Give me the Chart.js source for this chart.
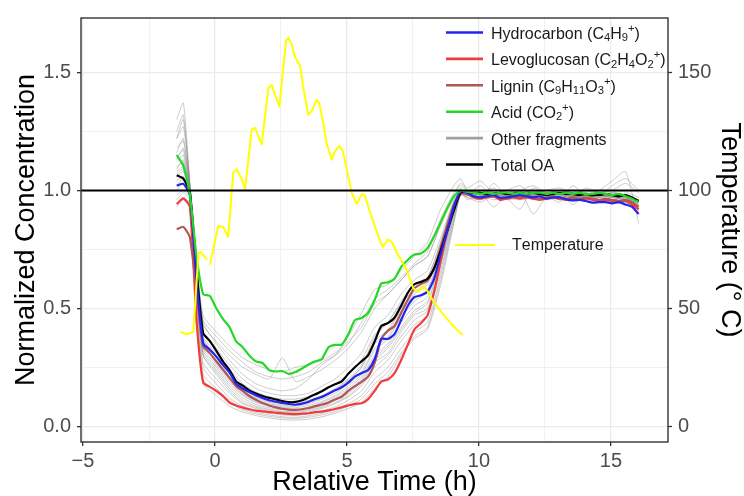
<!DOCTYPE html>
<html><head><meta charset="utf-8">
<script src="https://cdn.jsdelivr.net/npm/chart.js@4"></script>
<style>html,body{margin:0;padding:0;background:#fff}#wrap{width:744px;height:496px}</style>
</head><body><div id="wrap"><canvas id="c" width="744" height="496"></canvas></div>
<script>
// ---------- DATA ----------
const timeMain = [-1.45,-1.2,-0.95,-0.7,-0.45,-0.2,0.05,0.3,0.55,0.8,1.05,1.3,1.55,1.8,2.05,2.3,2.55,2.8,3.05,3.3,3.55,3.8,4.05,4.3,4.55,4.8,5.05,5.3,5.55,5.8,6.05,6.3,6.55,6.8,7.05,7.3,7.55,7.8,8.05,8.3,8.55,8.8,9.05,9.3,9.55,9.8,10.05,10.3,10.55,10.8,11.05,11.3,11.55,11.8,12.05,12.3,12.55,12.8,13.05,13.3,13.55,13.8,14.05,14.3,14.55,14.8,15.05,15.3,15.55,15.8,16.05];

const hydrocarbon = [1.02,1.028,0.98,0.62,0.352,0.325,0.295,0.26,0.228,0.18,0.16,0.145,0.131,0.12,0.11,0.104,0.099,0.094,0.091,0.096,0.104,0.115,0.125,0.138,0.152,0.165,0.185,0.21,0.225,0.238,0.285,0.37,0.37,0.39,0.45,0.51,0.547,0.555,0.57,0.625,0.73,0.83,0.93,0.995,
  0.99,0.975,0.97,0.975,0.98,0.968,0.97,0.975,0.98,0.975,0.97,0.975,0.965,0.97,0.97,0.962,0.958,0.96,0.955,0.948,0.95,0.95,0.945,0.95,0.94,0.93,0.9];
const levoglucosan = [0.942,0.966,0.93,0.45,0.185,0.167,0.15,0.128,0.1,0.088,0.079,0.072,0.066,0.063,0.06,0.057,0.054,0.052,0.051,0.053,0.055,0.06,0.062,0.067,0.073,0.08,0.088,0.095,0.097,0.115,0.15,0.19,0.198,0.225,0.28,0.345,0.41,0.437,0.47,0.57,0.7,0.83,0.93,0.985,
  0.985,0.97,0.965,0.97,0.975,0.96,0.965,0.97,0.965,0.97,0.965,0.96,0.965,0.97,0.965,0.96,0.965,0.96,0.965,0.96,0.955,0.96,0.955,0.95,0.955,0.94,0.92];
const lignin = [0.835,0.845,0.8,0.57,0.34,0.31,0.275,0.24,0.205,0.17,0.15,0.128,0.112,0.098,0.088,0.08,0.074,0.07,0.069,0.072,0.077,0.085,0.092,0.1,0.113,0.125,0.15,0.17,0.188,0.21,0.27,0.37,0.405,0.425,0.48,0.535,0.585,0.603,0.618,0.67,0.76,0.855,0.94,0.99,
  0.985,0.975,0.97,0.975,0.98,0.965,0.97,0.975,0.97,0.975,0.97,0.965,0.97,0.975,0.97,0.965,0.97,0.965,0.97,0.965,0.96,0.965,0.96,0.955,0.96,0.95,0.93];
const acid = [1.15,1.105,0.98,0.72,0.56,0.553,0.5,0.455,0.42,0.36,0.335,0.3,0.275,0.268,0.238,0.232,0.234,0.222,0.23,0.245,0.262,0.275,0.285,0.335,0.345,0.346,0.39,0.45,0.459,0.48,0.535,0.605,0.61,0.625,0.675,0.705,0.728,0.732,0.755,0.805,0.865,0.925,0.975,0.998,
  0.995,0.99,0.985,0.99,0.985,0.99,0.99,0.985,0.99,0.985,0.99,0.99,0.985,0.99,0.985,0.99,0.985,0.99,0.985,0.985,0.99,0.985,0.98,0.985,0.975,0.965,0.95];
const totalOA = [1.064,1.05,0.99,0.66,0.395,0.362,0.32,0.275,0.238,0.19,0.172,0.152,0.139,0.128,0.12,0.114,0.107,0.102,0.103,0.11,0.122,0.135,0.148,0.165,0.178,0.19,0.222,0.25,0.275,0.3,0.36,0.425,0.437,0.46,0.51,0.565,0.602,0.612,0.625,0.67,0.745,0.83,0.915,0.99,
  0.995,0.99,0.99,0.985,0.985,0.99,0.985,0.985,0.99,0.985,0.99,0.985,0.98,0.985,0.99,0.985,0.985,0.98,0.985,0.98,0.98,0.985,0.98,0.975,0.98,0.97,0.955];

const timeGray = [-1.45,-1.2,-0.95,-0.7,-0.45,0.05,0.55,1.05,1.55,2.05,2.55,3.05,3.55,4.05,4.55,5.05,5.55,6.05,6.55,7.05,7.55,8.05,8.55,9.05,9.3,9.55,10.05,10.55,11.05,11.55,12.05,12.55,13.05,13.55,14.05,14.55,15.05,15.55,16.05];
const gray01 = [1.30,1.37,1.03,0.72,0.47,0.40,0.34,0.29,0.26,0.24,0.23,0.25,0.26,0.28,0.31,0.36,0.42,0.52,0.56,0.62,0.68,0.72,0.86,0.98,1.03,1.01,1.04,0.99,1.0,1.02,0.98,1.0,1.01,0.99,1.0,0.98,1.02,1.05,1.0];
const gray02 = [1.22,1.27,1.02,0.68,0.43,0.36,0.30,0.25,0.22,0.20,0.29,0.19,0.21,0.24,0.28,0.33,0.40,0.50,0.56,0.62,0.68,0.72,0.85,0.97,1.01,0.98,1.02,0.97,0.99,1.0,0.96,0.98,0.99,1.0,0.97,0.99,1.0,0.96,0.95];
const gray03 = [1.18,1.21,1.01,0.66,0.40,0.33,0.26,0.20,0.16,0.14,0.13,0.13,0.14,0.17,0.20,0.25,0.31,0.42,0.47,0.56,0.62,0.66,0.80,0.96,1.0,0.99,0.98,1.0,0.97,0.98,1.0,0.99,0.98,0.99,0.98,0.97,0.99,0.98,0.94];
const gray04 = [1.14,1.17,1.0,0.64,0.37,0.30,0.22,0.16,0.13,0.11,0.10,0.10,0.11,0.13,0.16,0.20,0.26,0.36,0.41,0.50,0.57,0.61,0.76,0.94,0.99,0.98,0.99,0.97,0.98,0.99,0.98,0.97,0.99,0.98,0.97,0.98,0.97,0.96,0.93];
const gray05 = [1.10,1.12,0.99,0.62,0.35,0.28,0.20,0.14,0.11,0.095,0.085,0.085,0.095,0.115,0.14,0.18,0.23,0.33,0.38,0.47,0.54,0.58,0.74,0.93,0.99,1.0,0.98,0.99,0.97,1.0,0.99,0.98,1.0,0.99,0.98,0.99,0.98,0.97,0.95];
const gray06 = [1.08,1.10,0.99,0.60,0.32,0.25,0.18,0.13,0.10,0.085,0.075,0.072,0.08,0.10,0.125,0.16,0.21,0.30,0.35,0.44,0.51,0.55,0.72,0.92,0.995,0.99,0.97,0.98,0.96,0.97,0.98,0.96,0.97,0.98,0.96,0.97,0.96,0.95,0.92];
const gray07 = [1.06,1.08,0.98,0.58,0.30,0.23,0.16,0.11,0.085,0.072,0.064,0.062,0.07,0.085,0.11,0.14,0.19,0.28,0.33,0.41,0.48,0.52,0.70,0.91,0.99,0.97,0.95,0.98,0.99,0.97,0.98,0.99,0.97,0.98,0.97,0.98,0.99,0.98,0.96];
const gray08 = [1.02,1.05,0.98,0.56,0.27,0.20,0.14,0.095,0.075,0.062,0.055,0.053,0.06,0.075,0.095,0.125,0.17,0.25,0.30,0.38,0.45,0.49,0.68,0.90,0.99,0.98,0.99,0.96,0.98,0.97,0.99,0.98,0.96,0.97,0.99,0.98,0.97,0.97,0.93];
const gray09 = [0.98,1.0,0.97,0.50,0.22,0.16,0.11,0.075,0.058,0.048,0.04,0.038,0.044,0.055,0.07,0.095,0.13,0.20,0.25,0.33,0.40,0.44,0.64,0.88,0.98,0.99,0.98,0.97,0.99,0.98,0.97,0.98,0.99,0.98,0.97,0.98,0.99,0.97,0.94];
const gray10 = [0.93,0.96,0.95,0.45,0.18,0.13,0.085,0.06,0.045,0.035,0.028,0.026,0.03,0.04,0.055,0.075,0.10,0.16,0.21,0.30,0.37,0.41,0.60,0.86,0.98,0.97,0.96,0.98,0.97,0.96,0.97,0.98,0.96,0.97,0.98,0.96,0.97,0.95,0.91];
const gray11 = [1.22,1.30,1.02,0.70,0.44,0.35,0.28,0.22,0.18,0.16,0.15,0.16,0.20,0.26,0.30,0.38,0.48,0.58,0.60,0.66,0.72,0.78,0.92,1.02,1.05,1.0,0.96,1.03,0.97,0.92,1.01,0.98,0.95,1.02,0.98,1.0,1.04,1.08,0.86];
const gray12 = [1.12,1.15,1.0,0.63,0.36,0.27,0.20,0.15,0.12,0.10,0.09,0.09,0.10,0.12,0.15,0.19,0.25,0.38,0.44,0.52,0.58,0.63,0.78,0.95,1.0,0.96,0.99,0.93,0.98,1.0,0.90,0.97,0.99,0.94,0.98,0.96,0.95,0.99,0.97];
const gray13 = [1.16,1.22,1.01,0.65,0.38,0.31,0.24,0.18,0.145,0.125,0.115,0.115,0.125,0.15,0.18,0.22,0.28,0.39,0.44,0.53,0.60,0.63,0.78,0.95,1.0,0.99,1.0,0.99,0.98,1.0,0.99,1.0,0.99,0.98,1.0,0.99,0.98,0.98,0.95];
const gray14 = [1.04,1.06,0.98,0.57,0.30,0.22,0.15,0.10,0.08,0.068,0.06,0.058,0.066,0.08,0.10,0.13,0.18,0.27,0.31,0.40,0.47,0.50,0.69,0.91,0.99,0.98,0.97,0.99,0.98,0.97,0.98,0.99,0.98,0.97,0.98,0.98,0.97,0.96,0.92];
const gray15 = [1.09,1.13,1.0,0.61,0.33,0.26,0.19,0.135,0.105,0.09,0.08,0.078,0.088,0.105,0.13,0.17,0.22,0.32,0.37,0.46,0.53,0.57,0.73,0.925,0.995,0.985,0.98,0.975,0.985,0.98,0.975,0.985,0.98,0.975,0.98,0.985,0.975,0.97,0.94];
const gray16 = [1.0,1.03,0.97,0.53,0.25,0.18,0.12,0.085,0.065,0.055,0.048,0.046,0.052,0.065,0.082,0.11,0.15,0.23,0.28,0.36,0.43,0.47,0.66,0.89,0.985,0.975,0.985,0.97,0.98,0.975,0.985,0.97,0.98,0.975,0.97,0.98,0.975,0.965,0.93];
const gray17 = [1.25,1.32,1.02,0.69,0.45,0.38,0.32,0.27,0.23,0.21,0.20,0.21,0.23,0.27,0.3,0.35,0.44,0.54,0.58,0.63,0.69,0.74,0.88,0.99,1.02,1.0,0.99,1.01,0.98,1.0,1.02,0.99,1.0,0.98,1.01,0.99,1.0,1.03,0.99];
const gray18 = [1.13,1.18,1.01,0.64,0.37,0.29,0.21,0.155,0.125,0.105,0.095,0.094,0.104,0.125,0.155,0.195,0.25,0.35,0.4,0.49,0.56,0.6,0.75,0.94,0.995,0.99,0.985,0.98,0.99,0.985,0.98,0.99,0.985,0.98,0.985,0.99,0.98,0.975,0.95];
const gray19 = [0.96,0.99,0.96,0.48,0.2,0.145,0.1,0.068,0.052,0.042,0.035,0.033,0.038,0.048,0.062,0.085,0.115,0.18,0.23,0.31,0.38,0.42,0.62,0.87,0.98,0.98,0.97,0.975,0.98,0.97,0.975,0.98,0.97,0.975,0.98,0.97,0.975,0.96,0.92];
const gray20 = [1.07,1.09,0.985,0.59,0.31,0.24,0.17,0.12,0.092,0.078,0.07,0.068,0.076,0.092,0.118,0.15,0.2,0.29,0.34,0.42,0.49,0.53,0.71,0.915,0.99,0.98,0.975,0.985,0.97,0.98,0.975,0.97,0.985,0.975,0.98,0.97,0.98,0.975,0.95];

const timeTemp = [-1.30,-1.07,-0.82,-0.63,-0.54,-0.31,-0.25,-0.19,0.125,0.31,0.50,0.69,0.82,1.01,1.14,1.39,1.52,1.64,1.77,2.02,2.15,2.27,2.44,2.69,2.78,2.91,3.03,3.22,3.34,3.53,3.66,3.85,3.95,4.10,4.23,4.42,4.55,4.71,4.84,4.99,5.18,5.37,5.56,5.68,5.87,6.13,6.35,6.56,6.69,6.94,7.26,7.51,7.70,7.89,8.02,8.27,8.65,9.03,9.38];
const temperature = [40,39,40,73,74,70.6,null,68.5,85,84.5,80.3,107.6,109,104.8,100.6,125.8,126.5,123,119.5,143.3,144.7,140.5,135.6,163.6,164.7,162,156.6,153,144,132,133.5,138.4,137,128.6,120,113,116.7,118.8,116.7,109,99,94.2,98.4,97.8,90.8,82.4,76,79.3,78.2,72.6,66.3,58.5,57,59.2,57.9,53,47.3,42.4,38.7];

const legendLabels = ["Hydrocarbon (C\u2084H\u2089\u207A)", "Levoglucosan (C\u2082H\u2084O\u2082\u207A)", "Lignin (C\u2089H\u2081\u2081O\u2083\u207A)", "Acid (CO\u2082\u207A)", "Other fragments", "Total OA"];
const temperatureLabel = "Temperature";
const xMajorTicks = [-5, 0, 5, 10, 15];
const xMinorTicks = [-2.5, 2.5, 7.5, 12.5];
const yMajorTicks = [0, 0.5, 1.0, 1.5];
const yMinorTicks = [0.25, 0.75, 1.25];
const tempTicks = [0, 50, 100, 150];
const referenceLevel = 1.0;

// ---------- STYLE ----------
const FONT = "'Liberation Sans', Arial, Helvetica, sans-serif";
const C = {blue:'#2424f0', red:'#f23c3c', brown:'#b25555', green:'#25d825', gray:'rgba(130,130,130,0.5)', black:'#000000', yellow:'#ffff00'};
const pts = (xs, ys) => xs.map((x, i) => ({x: x, y: ys[i]}));
const grays = [gray01,gray02,gray03,gray04,gray05,gray06,gray07,gray08,gray09,gray10,gray11,gray12,gray13,gray14,gray15,gray16,gray17,gray18,gray19,gray20];

const datasets = [
  {label: temperatureLabel, data: pts(timeTemp, temperature), yAxisID: 'yT', borderColor: C.yellow, borderWidth: 2, order: 0, spanGaps: false, tension: 0},
  {label: legendLabels[3], data: pts(timeMain, acid), yAxisID: 'y', borderColor: C.green, borderWidth: 2.2, order: 1, tension: 0.2},
  {label: legendLabels[0], data: pts(timeMain, hydrocarbon), yAxisID: 'y', borderColor: C.blue, borderWidth: 2.2, order: 2, tension: 0.2},
  {label: legendLabels[5], data: pts(timeMain, totalOA), yAxisID: 'y', borderColor: C.black, borderWidth: 2.2, order: 3, tension: 0.2},
  {label: legendLabels[2], data: pts(timeMain, lignin), yAxisID: 'y', borderColor: C.brown, borderWidth: 2.2, order: 4, tension: 0.2},
  {label: legendLabels[1], data: pts(timeMain, levoglucosan), yAxisID: 'y', borderColor: C.red, borderWidth: 2.2, order: 5, tension: 0.2}
];
grays.forEach((g, i) => datasets.push({label: legendLabels[4], data: pts(timeGray, g), yAxisID: 'y', borderColor: C.gray, borderWidth: 0.8, order: 10 + i, tension: 0.2}));
datasets.forEach(d => { d.pointRadius = 0; d.fill = false; d.borderJoinStyle = 'round'; });

const legendColors = [C.blue, C.red, C.brown, C.green, '#a0a0a0', C.black];

function drawRich(ctx, str, x, y, size) {
  let cx = x;
  for (const ch of str) {
    const code = ch.codePointAt(0);
    let t = ch, s = size, dy = 0;
    if (code >= 0x2080 && code <= 0x2089) { t = String(code - 0x2080); s = size * 0.7; dy = size * 0.22; }
    else if (code === 0x207A) { t = '+'; s = size * 0.7; dy = -size * 0.36; }
    ctx.font = s + 'px ' + FONT;
    ctx.fillText(t, cx, y + dy);
    cx += ctx.measureText(t).width;
  }
}

const decor = {
  id: 'decor',
  afterDatasetsDraw(chart) {
    const {ctx, chartArea: a, scales} = chart;
    ctx.save();
    const yr = scales.y.getPixelForValue(referenceLevel);
    ctx.strokeStyle = '#000'; ctx.lineWidth = 2;
    ctx.beginPath(); ctx.moveTo(a.left, yr); ctx.lineTo(a.right, yr); ctx.stroke();
    ctx.strokeStyle = '#333333'; ctx.lineWidth = 1.4;
    ctx.strokeRect(a.left, a.top, a.right - a.left, a.bottom - a.top);
    ctx.textBaseline = 'middle'; ctx.fillStyle = '#1a1a1a';
    const x0 = 446, x1 = 483, tx = 491, y0 = 32.5, dy = 26.4;
    legendLabels.forEach((lab, i) => {
      const yy = y0 + i * dy;
      ctx.strokeStyle = legendColors[i]; ctx.lineWidth = 2.6;
      ctx.beginPath(); ctx.moveTo(x0, yy); ctx.lineTo(x1, yy); ctx.stroke();
      drawRich(ctx, lab, tx, yy + 2, 16);
    });
    ctx.strokeStyle = C.yellow; ctx.lineWidth = 2;
    ctx.beginPath(); ctx.moveTo(455, 245); ctx.lineTo(495, 245); ctx.stroke();
    drawRich(ctx, temperatureLabel, 512, 246, 16);
    ctx.restore();
  }
};

const isMajor = (arr, v) => arr.some(m => Math.abs(m - v) < 1e-9);
const fmtMinus = s => String(s).replace('-', '\u2212');

new Chart(document.getElementById('c'), {
  type: 'line',
  data: {datasets},
  plugins: [decor],
  options: {
    responsive: false, animation: false, devicePixelRatio: 1,
    layout: {padding: {top: 14, left: 0, right: 0, bottom: 0}},
    plugins: {legend: {display: false}, tooltip: {enabled: false}},
    scales: {
      x: {
        type: 'linear', min: -5.076, max: 17.16,
        afterBuildTicks: s => { s.ticks = xMajorTicks.concat(xMinorTicks).sort((a,b)=>a-b).map(v => ({value: v})); },
        afterFit: s => { s.height = 54; },
        ticks: {autoSkip: false, maxRotation: 0, padding: 3, color: '#4d4d4d', font: {family: FONT, size: 20},
          callback: v => isMajor(xMajorTicks, v) ? fmtMinus(v) : ''},
        grid: {color: '#ebebeb', lineWidth: c => isMajor(xMajorTicks, c.tick.value) ? 1.3 : 0.7,
          tickColor: c => isMajor(xMajorTicks, c.tick.value) ? '#333333' : 'rgba(0,0,0,0)', tickLength: 4, tickWidth: 1.3},
        border: {display: false},
        title: {display: true, text: 'Relative Time (h)', color: '#000', font: {family: FONT, size: 27, lineHeight: 1}, padding: {top: 0, bottom: 0}}
      },
      y: {
        type: 'linear', position: 'left', min: -0.067, max: 1.731,
        afterBuildTicks: s => { s.ticks = yMajorTicks.concat(yMinorTicks).sort((a,b)=>a-b).map(v => ({value: v})); },
        afterFit: s => { s.width = 81; },
        ticks: {autoSkip: false, padding: 6, color: '#4d4d4d', font: {family: FONT, size: 20},
          callback: v => isMajor(yMajorTicks, v) ? v.toFixed(1) : ''},
        grid: {color: '#ebebeb', lineWidth: c => isMajor(yMajorTicks, c.tick.value) ? 1.3 : 0.7,
          tickColor: c => isMajor(yMajorTicks, c.tick.value) ? '#333333' : 'rgba(0,0,0,0)', tickLength: 4, tickWidth: 1.3},
        border: {display: false},
        title: {display: true, text: 'Normalized Concentration', color: '#000', font: {family: FONT, size: 27, lineHeight: 1}, padding: {top: 13, bottom: 0}}
      },
      yT: {
        type: 'linear', position: 'right', min: -6.7, max: 173.1,
        afterBuildTicks: s => { s.ticks = tempTicks.map(v => ({value: v})); },
        afterFit: s => { s.width = 76; },
        ticks: {autoSkip: false, padding: 6, color: '#4d4d4d', font: {family: FONT, size: 20}, callback: v => String(v)},
        grid: {drawOnChartArea: false, tickColor: '#333333', tickLength: 4, tickWidth: 1.3},
        border: {display: false},
        title: {display: true, text: 'Temperature (\u00B0 C)', color: '#000', font: {family: FONT, size: 27, lineHeight: 1}, padding: {top: 1, bottom: 0}}
      }
    }
  }
});
</script>
</body></html>
